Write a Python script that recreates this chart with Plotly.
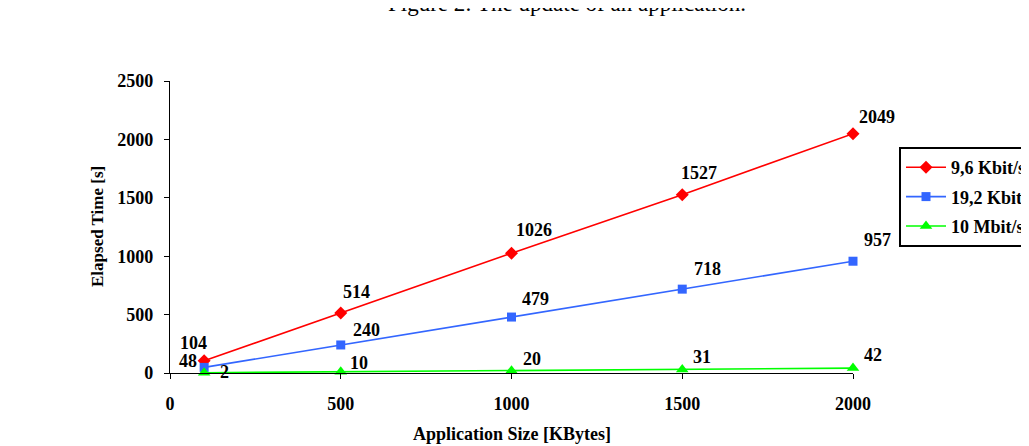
import plotly.graph_objects as go

app_size = [100, 500, 1000, 1500, 2000]
series_names = ["9,6 Kbit/s", "19,2 Kbit/s", "10 Mbit/s"]
t_96k = [104, 514, 1026, 1527, 2049]
t_192k = [48, 240, 479, 718, 957]
t_10m = [2, 10, 20, 31, 42]
x_ticks = [0, 500, 1000, 1500, 2000]
y_ticks = [0, 500, 1000, 1500, 2000, 2500]

series_values = [t_96k, t_192k, t_10m]
colors = ["#FF0000", "#3366FF", "#00FF00"]
symbols = ["diamond", "square", "triangle-up"]
msizes = [10, 9, 11]
# label pixel offsets (style): per series, per point
label_offsets = [
    [(-11, 18), (16, 21), (22, 23), (17, 22), (24, 17)],
    [(-16, 6), (26, 15), (24, 18), (25, 20), (24, 21)],
    [(20, 1), (18, 9), (20, 12), (20, 12), (20, 13)],
]

FONT = "Liberation Serif, Times New Roman, serif"

# plot area in screenshot pixels: x 170..853, y 81..373 (page has 8px body offset)
fig = go.Figure()
for i, (name, vals, c, s, ms) in enumerate(zip(series_names, series_values, colors, symbols, msizes)):
    fig.add_trace(go.Scatter(
        x=app_size, y=vals, name=name, mode="lines+markers",
        line=dict(color=c, width=1.6),
        marker=dict(symbol=s, size=ms, color=c),
        cliponaxis=False, legendgroup=f"g{i}",
    ))

annotations = []
for vals, offs in zip(series_values, label_offsets):
    for xv, yv, (dx, dy) in zip(app_size, vals, offs):
        annotations.append(dict(
            x=xv, y=yv, xref="x", yref="y", text=f"<b>{yv}</b>", showarrow=False,
            xshift=dx, yshift=dy, font=dict(family=FONT, size=18, color="black"),
        ))

annotations.append(dict(
    x=(567 - 170) / 683, y=(373 - 4) / 292, xref="paper", yref="paper",
    text="Figure 2: The update of an application.", showarrow=False,
    font=dict(family=FONT, size=23, color="black"), xanchor="center", yanchor="middle",
))
annotations.append(dict(
    x=(97 - 170) / 683, y=0.5, xref="paper", yref="paper", text="<b>Elapsed Time [s]</b>",
    showarrow=False, textangle=-90, font=dict(family=FONT, size=17, color="black"),
    xanchor="center", yanchor="middle",
))
annotations.append(dict(
    x=0.5, y=(373 - 434) / 292, xref="paper", yref="paper", text="<b>Application Size [KBytes]</b>",
    showarrow=False, font=dict(family=FONT, size=18, color="black"),
    xanchor="center", yanchor="middle",
))

fig.update_layout(
    width=1029, height=446,
    margin=dict(l=162, r=184, t=73, b=81, autoexpand=False),
    paper_bgcolor="white", plot_bgcolor="white",
    font=dict(family=FONT, size=18, color="black"),
    showlegend=True,
    legend=dict(
        x=(899 - 170) / 683, y=(373 - 147) / 292, xanchor="left", yanchor="top",
        bordercolor="black", borderwidth=2, bgcolor="white",
        font=dict(family=FONT, size=18, color="black", weight="bold"),
        itemwidth=40, tracegroupgap=3,
    ),
    annotations=annotations,
    xaxis=dict(
        range=[0, 2000], tickvals=x_ticks, ticktext=[f"<b>{v}</b>" for v in x_ticks],
        showgrid=False, zeroline=False, showline=True, linecolor="black", linewidth=1.3,
        ticks="outside", ticklen=5, tickcolor="black", tickwidth=1.3,
        tickfont=dict(family=FONT, size=18, color="black"), ticklabelstandoff=9,
    ),
    yaxis=dict(
        range=[0, 2500], tickvals=y_ticks, ticktext=[f"<b>{v}</b>" for v in y_ticks],
        showgrid=False, zeroline=False, showline=True, linecolor="black", linewidth=1.3,
        ticks="outside", ticklen=5, tickcolor="black", tickwidth=1.3,
        tickfont=dict(family=FONT, size=18, color="black"), ticklabelstandoff=7,
    ),
)

fig.write_html("out.html")
